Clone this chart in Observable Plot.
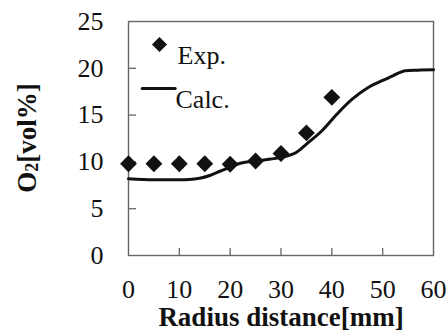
<!DOCTYPE html>
<html>
<head>
<meta charset="utf-8">
<script src="https://cdn.jsdelivr.net/npm/d3@7"></script>
<script src="https://cdn.jsdelivr.net/npm/@observablehq/plot@0.6"></script>
<style>
  html, body { margin: 0; padding: 0; background: #fff; }
  #chart { width: 446px; height: 331px; }
  #chart svg, #chart svg text { font-family: 'Liberation Serif', 'Times New Roman', serif !important; }
</style>
</head>
<body>
<div id="chart"></div>
<script>
// Experimental O2 data
const expX = [0, 5, 10, 15, 20, 25, 30, 35, 40];
const expY = [9.8, 9.8, 9.8, 9.8, 9.75, 10.1, 10.9, 13.1, 16.9];
// Calculated O2 curve
const calcX = [0, 5, 10, 12, 14, 16, 18, 20, 22, 25, 28, 31, 33, 35, 38, 41, 44, 47, 50, 52, 54.5, 57, 60];
const calcY = [8.2, 8.1, 8.1, 8.12, 8.25, 8.55, 9.0, 9.45, 9.85, 10.1, 10.3, 10.6, 11.0, 11.9, 13.3, 15.1, 16.7, 17.9, 18.7, 19.2, 19.75, 19.8, 19.85];
// Ticks
const xTicks = [0, 10, 20, 30, 40, 50, 60];
const yTicks = [0, 5, 10, 15, 20, 25];
const xInnerTicks = [10, 20, 30, 40, 50];
const yInnerTicks = [5, 10, 15, 20];
const legendLabels = ["Exp.", "Calc."];
const xTitle = "Radius distance[mm]";

const expData = expX.map((x, i) => ({x, y: expY[i]}));
const calcData = calcX.map((x, i) => ({x, y: calcY[i]}));

const serif = "Liberation Serif";
const W = 446, H = 331;
const mL = 128, mR = 13, mT = 21, mB = 76;
const innerW = W - mL - mR, innerH = H - mT - mB;

const lineShape = {draw(ctx, l) { ctx.moveTo(0, 0); ctx.lineTo(0, -l); }};

const chart = Plot.plot({
  width: W,
  height: H,
  marginLeft: mL,
  marginRight: mR,
  marginTop: mT,
  marginBottom: mB,
  style: {background: "#fff", color: "#000", overflow: "visible"},
  x: {domain: [0, 60]},
  y: {domain: [0, 25]},
  marks: [
    Plot.frame({stroke: "#666", strokeWidth: 1.4}),
    Plot.tickY(yInnerTicks, {y: d => d, insetRight: innerW - 8, stroke: "#666", strokeWidth: 1.3}),
    Plot.tickX(xInnerTicks, {x: d => d, insetTop: innerH - 7, stroke: "#666", strokeWidth: 1.3}),
    Plot.axisY(yTicks, {tickSize: 0, tickPadding: 25, fontSize: 26, fontFamily: serif, label: null, fill: "#111"}),
    Plot.axisX(xTicks, {tickSize: 0, tickPadding: 24, fontSize: 26, fontFamily: serif, label: null, fill: "#111"}),
    Plot.line(calcData, {x: "x", y: "y", curve: "monotone-x", stroke: "#111", strokeWidth: 3}),
    Plot.dot(expData, {x: "x", y: "y", symbol: "diamond2", r: 7.6, fill: "#111", stroke: "none"}),
    // legend
    Plot.dot([legendLabels[0]], {frameAnchor: "top-left", dx: 31, dy: 23, symbol: "diamond2", r: 6.8, fill: "#111", stroke: "none"}),
    Plot.text([legendLabels[0]], {frameAnchor: "top-left", dx: 49, dy: 24, text: d => d, textAnchor: "start", fontSize: 26, fontFamily: serif, fill: "#111"}),
    Plot.vector([legendLabels[1]], {frameAnchor: "top-left", dx: 13.7, dy: 67, length: 33, rotate: 90, anchor: "start", shape: lineShape, stroke: "#111", strokeWidth: 3}),
    Plot.text([legendLabels[1]], {frameAnchor: "top-left", dx: 47, dy: 68, text: d => d, textAnchor: "start", fontSize: 26, fontFamily: serif, fill: "#111"}),
    // x title
    Plot.text([xTitle], {frameAnchor: "bottom", dy: 70, text: d => d, fontSize: 27, fontWeight: "bold", fontFamily: serif, fill: "#111"})
  ]
});

document.getElementById("chart").appendChild(chart);

// y title with subscript
const svg = d3.select(chart);
const t = svg.append("text")
  .attr("transform", `translate(36, ${mT + innerH / 2}) rotate(-90)`)
  .attr("text-anchor", "middle")
  .attr("font-family", serif)
  .attr("font-size", 27)
  .attr("font-weight", "bold")
  .attr("fill", "#111");
t.append("tspan").text("O");
t.append("tspan").attr("font-size", 18).attr("dy", 2).text("2");
t.append("tspan").attr("dy", -2).text("[vol%]");
</script>
</body>
</html>
